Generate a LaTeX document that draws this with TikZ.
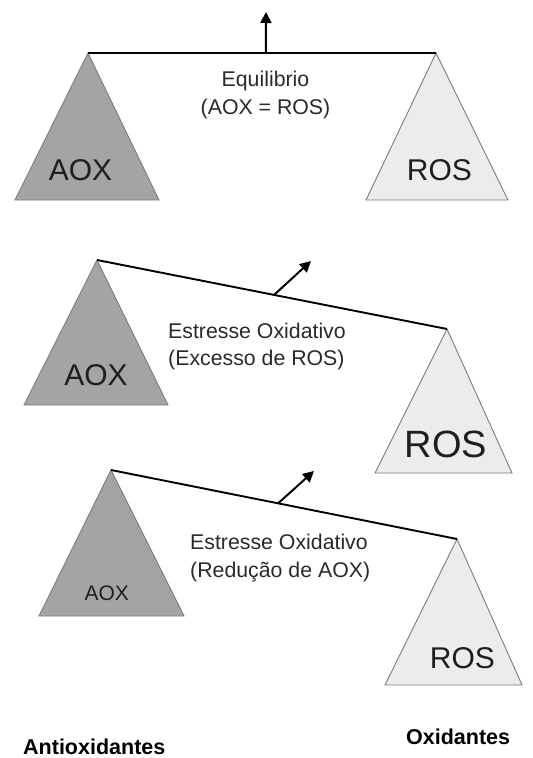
\documentclass[tikz,border=0pt]{standalone}
\usepackage{fontspec}
\setmainfont{Liberation Sans}
\usetikzlibrary{arrows.meta,calc}

\definecolor{aoxgray}{HTML}{A4A4A4}
\definecolor{rosgray}{HTML}{ECECEC}
\definecolor{edgegray}{HTML}{7C7C7C}
\definecolor{inkgray}{HTML}{2A2A2A}

\begin{document}
\begin{tikzpicture} [
                x=1pt, y=-1pt,
                weight/.style = {draw=edgegray, line width=0.9pt, line join=miter},
                beam/.style = {draw, line width=1.9pt, line cap=butt},
                tilt/.style = {draw, line width=2pt, -{Triangle[length=11pt,width=11pt]}},
                tag/.style = {inner sep=0pt, text=black!88},
                note/.style = {inner sep=0pt, align=left, text=inkgray, font=\fontsize{21.3}{27.6}\selectfont},
                side/.style = {inner sep=0pt, anchor=base west, font=\bfseries\fontsize{21.5}{24}\selectfont},
            ]
            \fill[white] (0,0) rectangle (533,758);
            \useasboundingbox (0,0) rectangle (533,758);
            % apexes of the weights
            \foreach \px/\py/\name in {
                    88/53/aox1, 436/53/ros1,
                    97/260/aox2, 447/329/ros2,
                    111/470/aox3, 457/539/ros3}
                \coordinate (\name) at (\px,\py);
            \foreach \tp/\xa/\xb/\yb/\fillc in {
                    aox1/15/159/200/aoxgray, ros1/366/508/200/rosgray,
                    aox2/24/168/405/aoxgray, ros2/375/512/473/rosgray,
                    aox3/39/184/616/aoxgray, ros3/385/522/685/rosgray}
                \path[weight, fill=\fillc] (\tp) -- (\xa,\yb) -- (\xb,\yb) -- cycle;
            % beams and their arrows
            \foreach \source/ \dest in {
                    aox1/ros1, aox2/ros2, aox3/ros3}
                \path[beam] (\source) edge (\dest);
            \coordinate (mid1) at ($(aox1)!0.511!(ros1)$);
            \coordinate (mid2) at ($(aox2)!0.506!(ros2)$);
            \coordinate (mid3) at ($(aox3)!0.483!(ros3)$);
            \foreach \px/\py/\name in {
                    266/12/tip1, 311/261/tip2, 314/471/tip3}
                \coordinate (\name) at (\px,\py);
            \foreach \source/ \dest in {
                    mid1/tip1, mid2/tip2, mid3/tip3}
                \draw[tilt] (\source) -- (\dest);
            % texts on the weights
            \foreach \px/\py/\name/\size/\txt in {
                    80.5/180/aoxtxt1/30/AOX, 439.5/180/rostxt1/30/ROS,
                    96/385/aoxtxt2/30/AOX, 446/457/rostxt2/38/ROS,
                    106.7/600/aoxtxt3/21/AOX, 462.5/668.3/rostxt3/30/ROS}
                \node[tag, anchor=base, font=\fontsize{\size}{\size}\selectfont] (\name) at (\px,\py) {\txt};
            \node[note, align=center, anchor=north] (equil) at (265.5,71.2) {Equilibrio\\(AOX = ROS)};
            \node[note, anchor=north west] (excess) at (168,322.5) {Estresse Oxidativo\\(Excesso de ROS)};
            \node[note, anchor=north west] (reduct) at (190,534) {Estresse Oxidativo\\(Redução de AOX)};
            \node[side] (antiox) at (23,754) {Antioxidantes};
            \node[side] (oxid) at (406,744.3) {Oxidantes};
        \end{tikzpicture}
\end{document}
